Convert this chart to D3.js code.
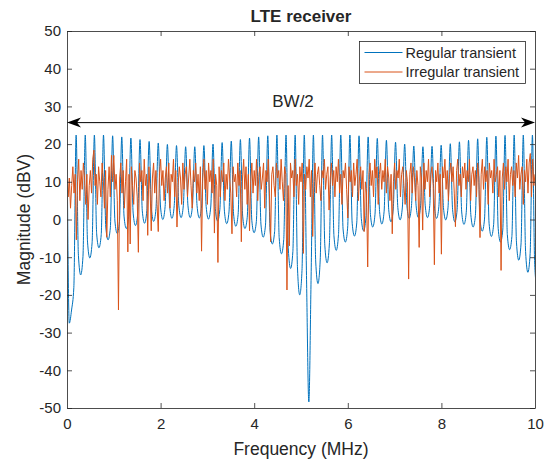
<!DOCTYPE html>
<html>
<head>
<meta charset="utf-8">
<script src="https://cdn.jsdelivr.net/npm/d3@7/dist/d3.min.js"></script>
<style>
    body { margin: 0; background: #ffffff; }
    text { font-family: "Liberation Sans", Arial, Helvetica, sans-serif; fill: #262626; }
</style>
</head>
<body>
<svg id="chart" width="547" height="460"></svg>
<script>
// blue: one row per ripple period -> peak, shoulder, dip, shoulder (step = quarter period)
var blueStep = 0.04875;
var regularMag = [
    22.4, -27.5, -24, -18,
    22.4, -9.5, -14.7, -9.8,
    22.4, -6, -10.2, -6.2,
    22.4, -3.8, -7.5, -4,
    22.4, -2, -5.4, -2.2,
    22.2, -0.4, -3.7, -0.5,
    21.9, 0.9, -2.4, 0.8,
    21.6, 1.7, -1.6, 1.6,
    21.2, 2.3, -1.0, 2.4,
    20.7, 2.8, -0.5, 2.9,
    20.3, 3.3, 0.0, 3.4,
    19.9, 3.6, 0.3, 3.7,
    19.6, 3.8, 0.5, 3.8,
    19.3, 3.8, 0.5, 3.7,
    19.3, 3.7, 0.4, 3.6,
    19.6, 3.4, 0.1, 3.3,
    20.0, 2.9, -0.4, 2.7,
    20.4, 2.2, -1.1, 2.0,
    20.8, 1.5, -1.8, 1.3,
    21.2, 0.9, -2.4, 0.6,
    21.6, -0.2, -3.5, -0.5,
    21.9, -1.2, -4.7, -1.5,
    22.2, -2.8, -6.5, -3.2,
    22.4, -4.8, -9.1, -5.3,
    22.4, -7.8, -13, -8.5,
    22.4, -12.5, -20, -13.5,
    22.4, -16, -48.4, -15,
    22.4, -11, -17, -10.5,
    22.4, -6.8, -11.5, -6.5,
    22.4, -4.3, -8.2, -4,
    22.4, -2.5, -6, -2.3,
    22.4, -1, -4.4, -0.9,
    22.2, 0.3, -3, 0.4,
    21.9, 1.3, -2, 1.4,
    21.5, 2.1, -1.2, 2.2,
    21.0, 2.7, -0.6, 2.8,
    20.5, 3.2, -0.1, 3.3,
    20.0, 3.6, 0.3, 3.7,
    19.5, 3.8, 0.5, 3.8,
    19.3, 3.8, 0.5, 3.7,
    19.4, 3.6, 0.3, 3.5,
    19.7, 3.2, -0.1, 3.1,
    20.1, 2.7, -0.6, 2.6,
    20.6, 2.0, -1.3, 1.9,
    21.0, 1.3, -2.0, 1.1,
    21.4, 0.3, -3.1, 0.1,
    21.8, -1.0, -4.5, -1.3,
    22.1, -2.4, -6.0, -2.8,
    22.3, -4.0, -8.0, -4.5,
    22.4, -6.0, -10.8, -6.5,
    22.4, -8.5, -14.0, -9,
    22.4, -12, -18.5
];

// orange: sampled every 0.025 MHz, one row = 0.5 MHz
var irregStep = 0.025;
var irregularMag = [
    15, 6, 11, 3, 9, 14, 7, 12, -5.4, 10, 16, 5, 13, 8, 15, 11, 4, 12, 0, 9,
    13, 7, 16, 18.4, 9, 12, 4, 14, 10, 6, 15, 11, 3, 13, -4.7, 8, 14, 6, 17, 10,
    17, 8, 12, 5, -24, 11, 15, 7, 13, 3, 10, 16, -8.6, 12, -6.5, 14, 9, 4, 13, 11,
    6, -8.7, 15, 10, 13, 5, 16, 9, 12, -4.2, 14, 8, -3, 11, 15, 7, 13, 4, -3.2, 12,
    16, 9, 13, 5, 11, 14, 7, 15, 3, 12, 10, 16, 6, 13, -2, 9, 14, 11, 4, 15,
    8, 12, 14, 6, 11, 16, 9, 3, 13, 10, 15, 7, 12, 5, 14, -8.4, 11, 16, 8, 13,
    4, 15, 10, 13, 7, 16, -3.6, 12, 9, -11.4, 14, 6, 13, 10, 15, 5, 12, 8, 16, 11,
    7, -3.8, 14, 10, 12, 6, 15, 9, 13, -5.9, 11, 16, 8, 14, 4, 12, -3, 10, 15, 7,
    13, 9, 16, 5, 12, 14, 8, 11, 15, 3, 13, 10, 16, 7, -5.9, 12, 14, 9, 6, 15,
    11, 13, 8, 16, 10, 5, 14, 12, -18.7, 9, -7, 15, 11, 13, 6, 16, 9, 12, 4, 14,
    10, 15, -9, 12, 8, 14, 11, 16, 6, 13, -4.5, 10, 15, 7, 12, 14, 9, 5, 13, 11,
    16, 8, 12, 14, 2.5, 11, 15, 9, 13, 6, 14, 10, 16, 7, 12, 4, 13, 11, 15, 8,
    0.4, 14, 10, 13, 6, 15, 9, 12, 16, 5, 11, 14, 8, 13, -3.2, 10, 7, -12.6, 12, 15,
    9, 13, 6, 16, 11, 14, 4, 12, 15, 8, 13, 10, 16, 7, 14, 11, 5, 12, -3.8, 10,
    15, 8, 13, 11, 16, 6, 12, 14, 9, 4, 13, 10, -15.8, 12, 15, 7, 14, 11, 5, 13,
    9, -7.4, 14, 11, -2.8, 15, 8, 13, 10, 16, 6, 12, 14, 9, -12, 13, 10, 15, 7, 12,
    -9.2, 14, 11, 16, 8, 13, 5, 12, 15, 10, 14, 7, -1.9, 13, 16, 9, 12, 6, 14, 11,
    15, 8, 13, 10, 16, 5, 12, 14, 9, 13, 6, 15, 11, -4.8, 12, 16, 8, 14, 10, 13,
    4, 15, 11, 13, 7, 16, 10, 12, 14, 6, 13, -13.5, 11, 15, 8, 14, 10, 16, 5, 12,
    14, 9, 13, 6, 15, 11, 17, 8, 12, 14, 4, 13, 10, 16, 7, 15, 17.5, 6, 16, 9,
    12
];

var seriesNames = ['Regular transient', 'Irregular transient'];
var seriesColors = ['#0072BD', '#D95319'];
var xTicks = [0, 2, 4, 6, 8, 10];
var yTicks = [-50, -40, -30, -20, -10, 0, 10, 20, 30, 40, 50];
var bwArrow = [0, 10];   // MHz
var bwLevel = 25.7;      // dBV
var bwText = 'BW/2';

var margin = { top: 31, right: 12, bottom: 52, left: 67 },
    width = 547 - margin.left - margin.right,
    height = 460 - margin.top - margin.bottom;

var x = d3.scaleLinear()
    .domain([0, 10])
    .range([0, width]);

var y = d3.scaleLinear()
    .domain([-50, 50])
    .range([height, 0]);

var svg = d3.select('#chart');
var plot = svg.append('g')
    .attr('transform', 'translate(' + margin.left + ',' + margin.top + ')');

plot.append('clipPath')
    .attr('id', 'clip')
    .append('rect')
    .attr('width', width)
    .attr('height', height);

///////////////////////////////
// series
///////////////////////////////
var blueLine = d3.line()
    .x(function(d, i) { return x(i * blueStep) })
    .y(function(d) { return y(d) })
    .curve(d3.curveMonotoneX);

var orangeLine = d3.line()
    .x(function(d, i) { return x(i * irregStep) })
    .y(function(d) { return y(d) });

plot.append('path')
    .datum(regularMag)
    .attr('clip-path', 'url(#clip)')
    .attr('fill', 'none')
    .attr('stroke', seriesColors[0])
    .attr('stroke-width', 1)
    .attr('d', blueLine);

plot.append('path')
    .datum(irregularMag)
    .attr('clip-path', 'url(#clip)')
    .attr('fill', 'none')
    .attr('stroke', seriesColors[1])
    .attr('stroke-width', 1)
    .attr('stroke-linejoin', 'round')
    .attr('d', orangeLine);

///////////////////////////////
// axes (box with inward ticks)
///////////////////////////////
function styleAxis(g) {
    g.selectAll('path.domain').attr('stroke', '#4d4d4d').attr('stroke-width', 1);
    g.selectAll('.tick line').attr('stroke', '#262626').attr('stroke-width', 0.8);
    g.selectAll('.tick text').attr('fill', '#262626').attr('font-size', 15)
        .attr('font-family', '"Liberation Sans", Arial, sans-serif');
}

var plain = function(d) { return String(d) };

plot.append('g')
    .attr('transform', 'translate(0,' + height + ')')
    .call(d3.axisBottom(x).tickValues(xTicks).tickFormat(plain).tickSizeInner(-5).tickSizeOuter(0).tickPadding(10))
    .call(styleAxis);

plot.append('g')
    .call(d3.axisTop(x).tickValues(xTicks).tickSizeInner(-5).tickSizeOuter(0).tickFormat(''))
    .call(styleAxis);

plot.append('g')
    .call(d3.axisLeft(y).tickValues(yTicks).tickFormat(plain).tickSizeInner(-5).tickSizeOuter(0).tickPadding(6))
    .call(styleAxis);

plot.append('g')
    .attr('transform', 'translate(' + width + ',0)')
    .call(d3.axisRight(y).tickValues(yTicks).tickSizeInner(-5).tickSizeOuter(0).tickFormat(''))
    .call(styleAxis);

///////////////////////////////
// BW/2 annotation
///////////////////////////////
var ay = y(bwLevel);
plot.append('line')
    .attr('x1', x(bwArrow[0]) + 8)
    .attr('x2', x(bwArrow[1]) - 8)
    .attr('y1', ay)
    .attr('y2', ay)
    .attr('stroke', '#000000')
    .attr('stroke-width', 1);

plot.selectAll('path.head')
    .data(bwArrow)
    .enter()
    .append('path')
    .attr('class', 'head')
    .attr('fill', '#000000')
    .attr('d', function(d, i) {
        var tip = x(d), s = i == 0 ? 1 : -1;
        return 'M' + tip + ',' + ay +
            'L' + (tip + s * 14) + ',' + (ay - 5) +
            'L' + (tip + s * 10) + ',' + ay +
            'L' + (tip + s * 14) + ',' + (ay + 5) + 'Z';
    });

plot.append('text')
    .attr('x', x(4.83))
    .attr('y', y(29.8))
    .attr('text-anchor', 'middle')
    .attr('font-size', 17)
    .attr('fill', '#000000')
    .text(bwText);

///////////////////////////////
// legend
///////////////////////////////
var legend = svg.append('g').attr('transform', 'translate(359.5,41.5)');
legend.append('rect')
    .attr('width', 166)
    .attr('height', 42)
    .attr('fill', '#ffffff')
    .attr('stroke', '#262626')
    .attr('stroke-width', 0.8);

legend.selectAll('line.key')
    .data(seriesNames)
    .enter()
    .append('line')
    .attr('class', 'key')
    .attr('x1', 5)
    .attr('x2', 43)
    .attr('y1', function(d, i) { return 11 + i * 19.5 })
    .attr('y2', function(d, i) { return 11 + i * 19.5 })
    .attr('stroke', function(d, i) { return seriesColors[i] })
    .attr('stroke-width', 1);

legend.selectAll('text.key')
    .data(seriesNames)
    .enter()
    .append('text')
    .attr('class', 'key')
    .attr('x', 46)
    .attr('y', function(d, i) { return 11 + i * 19.5 })
    .attr('dy', '0.35em')
    .attr('font-size', 14.5)
    .attr('fill', '#000000')
    .text(function(d) { return d });

///////////////////////////////
// titles
///////////////////////////////
svg.append('text')
    .attr('x', margin.left + width / 2)
    .attr('y', 22)
    .attr('text-anchor', 'middle')
    .attr('font-size', 17)
    .attr('font-weight', 'bold')
    .attr('fill', '#000000')
    .text('LTE receiver');

svg.append('text')
    .attr('x', margin.left + width / 2)
    .attr('y', 455)
    .attr('text-anchor', 'middle')
    .attr('font-size', 17.5)
    .text('Frequency (MHz)');

svg.append('text')
    .attr('transform', 'translate(30,' + (margin.top + height / 2) + ') rotate(-90)')
    .attr('text-anchor', 'middle')
    .attr('font-size', 17.5)
    .text('Magnitude (dBV)');
</script>
</body>
</html>
